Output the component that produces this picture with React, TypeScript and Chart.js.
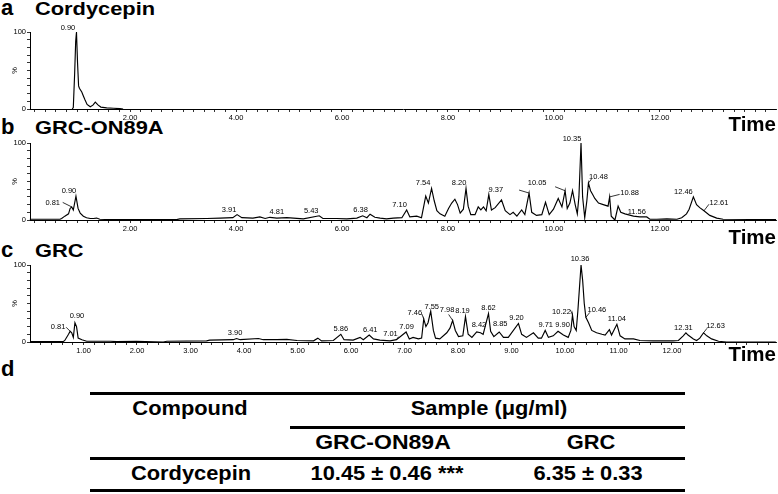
import { useEffect, useRef } from "react";
import { Chart, registerables } from "chart.js";

Chart.register(...registerables);

const FONT = "'Liberation Sans', Arial, Helvetica, sans-serif";

// ---------------- data (retention time in min, relative intensity in %) ----------------
// a  Cordycepin standard
const timeA = [0.91, 0.93, 0.955, 0.975, 0.99, 1.01, 1.03, 1.045, 1.09, 1.12, 1.15, 1.19, 1.25, 1.3, 1.345, 1.4, 1.45, 1.56, 1.69, 1.81, 1.87];
const intensityA = [0, 2, 45, 88, 100, 60, 30, 27, 22, 17, 12, 6, 3, 5, 9, 5, 2.5, 1.5, 1, 0.5, 0];
const peakTextA = ["0.90"];
const peakTimeA = [0.99];

// b  GRC-ON89A
const timeB = [
  0.11, 0.68, 0.71, 0.77, 0.84, 0.87, 0.9, 0.93, 0.98, 1.02,
  1.06, 1.12, 1.18, 1.25, 1.31, 1.37, 1.43, 1.62, 2.88, 2.94,
  3.45, 3.7, 3.94, 4.02, 4.11, 4.32, 4.45, 4.55, 4.64, 4.77,
  4.96, 5.27, 5.57, 5.64, 5.9, 6.09, 6.28, 6.39, 6.47, 6.53,
  6.62, 6.72, 6.84, 6.97, 7.13, 7.22, 7.28, 7.41, 7.5, 7.58,
  7.63, 7.69, 7.74, 7.79, 7.85, 7.94, 8.01, 8.07, 8.13, 8.18,
  8.23, 8.29, 8.34, 8.38, 8.43, 8.51, 8.57, 8.62, 8.67, 8.72,
  8.77, 8.82, 8.89, 9.01, 9.08, 9.17, 9.23, 9.3, 9.39, 9.45,
  9.53, 9.58, 9.67, 9.77, 9.84, 9.91, 9.99, 10.08, 10.15, 10.21,
  10.25, 10.3, 10.35, 10.4, 10.44, 10.47, 10.51, 10.54, 10.58, 10.62,
  10.65, 10.69, 10.73, 10.77, 10.84, 10.93, 11.02, 11.05, 11.08, 11.15,
  11.21, 11.26, 11.34, 11.5, 11.62, 11.75, 11.81, 11.94, 12.13, 12.32,
  12.41, 12.5, 12.55, 12.63, 12.69, 12.75, 12.83, 12.94, 13.07, 13.19,
  14.19,
];
const intensityB = [
  1, 1, 2, 5, 8, 15, 17, 13, 31, 15,
  9, 5, 3, 2, 2, 2.5, 1, 0.5, 0.5, 1.5,
  2, 2.5, 3, 7, 3, 2.5, 4, 2, 3.5, 2.5,
  3, 1.5, 5.5, 2, 2, 1.5, 2.5, 5.5, 3, 7.5,
  3.5, 2.5, 1.5, 2.5, 3, 13, 4, 5, 3, 31,
  22, 41, 25, 12, 8, 5, 15, 22, 27, 20,
  9, 14, 41, 18, 7, 7, 17, 13, 17, 12,
  33, 13, 16, 26, 12, 7, 10, 5, 13, 7,
  35, 10, 6, 7, 23, 7, 14, 28, 17, 38,
  15, 22, 38, 20, 8, 30, 100, 30, 3, 25,
  48, 38, 33, 28, 22, 20, 18, 30, 5, 0,
  18, 10, 8, 5, 4, 4, 1, 1, 1.5, 1,
  3, 8, 14, 30, 20, 16, 12, 6, 2.5, 1,
  0.5,
];
const peakTextB = ["0.81", "0.90", "3.91", "4.81", "5.43", "6.38", "7.10", "7.54", "8.20", "9.37", "10.05", "", "10.35", "10.48", "10.88", "11.56", "12.46", "12.61"];
const peakTimeB = [0.9, 0.98, 4.02, 4.96, 5.57, 6.39, 7.22, 7.69, 8.34, 8.77, 10.21, 9.53, 10.51, 10.65, 11.05, 11.75, 12.63, 12.83];

// c  GRC
const timeC = [
  0, 0.62, 0.65, 0.72, 0.75, 0.78, 0.81, 0.84, 0.87, 0.9,
  0.97, 1.06, 1.5, 1.62, 1.99, 2.49, 2.56, 3.3, 3.36, 3.8,
  3.86, 3.93, 4.27, 4.36, 4.61, 4.8, 4.99, 5.3, 5.38, 5.45,
  5.67, 5.81, 5.87, 6.04, 6.17, 6.23, 6.34, 6.42, 6.54, 6.73,
  6.85, 7.03, 7.09, 7.16, 7.26, 7.32, 7.36, 7.4, 7.44, 7.49,
  7.54, 7.58, 7.66, 7.79, 7.85, 7.9, 7.95, 8.01, 8.09, 8.14,
  8.19, 8.26, 8.35, 8.42, 8.47, 8.57, 8.61, 8.67, 8.77, 8.85,
  8.94, 9.13, 9.19, 9.28, 9.41, 9.5, 9.56, 9.63, 9.69, 9.78,
  9.87, 9.97, 10.06, 10.11, 10.14, 10.17, 10.21, 10.24, 10.27, 10.3,
  10.33, 10.36, 10.39, 10.44, 10.5, 10.59, 10.69, 10.75, 10.83, 10.87,
  10.97, 11.03, 11.12, 11.28, 11.4, 11.65, 12.02, 12.12, 12.21, 12.26,
  12.3, 12.4, 12.46, 12.52, 12.59, 12.65, 12.74, 12.87, 13.02, 13.94,
];
const intensityC = [
  0.5, 0.5, 2, 10, 14, 12, 6, 25, 20, 5,
  3, 1, 1, 0.5, 1, 0, 1, 1.5, 2.5, 3,
  4.5, 3, 4.5, 3, 3, 3.5, 2, 1.5, 5, 1.5,
  2, 10, 3, 2.5, 6, 3, 9, 4, 2.5, 1.5,
  3, 13, 4, 6, 4, 5, 30, 20, 25, 40,
  15, 5, 4, 12, 18, 28, 15, 7, 8, 33,
  10, 6, 13, 12, 10, 37, 14, 7, 13, 6,
  6, 24, 10, 6, 12, 5, 5, 15, 6, 8,
  14, 9, 6, 15, 35, 20, 15, 40, 70, 100,
  80, 50, 32, 25, 15, 12, 10, 9, 16, 9,
  23, 8, 4, 4, 2, 1.5, 1.5, 2, 8, 12,
  9, 4, 2, 5, 12, 8, 4, 1, 0, 0,
];
const peakTextC = ["0.81", "0.90", "3.90", "5.86", "6.41", "7.01", "7.09", "7.46", "7.55", "7.98", "8.19", "8.42", "8.62", "8.85", "9.20", "9.71", "9.90", "10.22", "10.36", "10.46", "11.04", "12.31", "12.63"];
const peakTimeC = [0.75, 0.84, 3.86, 5.81, 6.34, 6.85, 7.03, 7.36, 7.49, 7.9, 8.14, 8.42, 8.57, 8.77, 9.13, 9.63, 9.87, 10.14, 10.3, 10.39, 10.97, 12.26, 12.59];

// axis tick labels
const xTickLabelsAB = ["2.00", "4.00", "6.00", "8.00", "10.00", "12.00"];
const xTickLabelsC = ["1.00", "2.00", "3.00", "4.00", "5.00", "6.00", "7.00", "8.00", "9.00", "10.00", "11.00", "12.00"];
const yTickLabels = ["0", "100"];

// d  table
const tableHeaders = ["Compound", "Sample (\u03bcg/ml)"];
const tableSamples = ["GRC-ON89A", "GRC"];
const tableCompound = "Cordycepin";
const tableValues = ["10.45 \u00b1 0.46 ***", "6.35 \u00b1 0.33"];

// ---------------- label placement (pixel offsets: text dx, dy; leader lx, ly) ----------------
const offsetsA = [[-8.5, 4.5, 0, 0]];
const offsetsB = [
  [-19, 4, -9, 4.5], [-7, 5, 0, 0], [-8, 5, 0, 0], [-10, 6, 0, 0], [-8, 5, 0, 0], [-2, 6, 0, 0],
  [-7, 5, 0, 0], [-8.5, 5, 0, 0], [-7, 5, 0, 0], [7, 5, 0, 0], [-28, 8, -10, 4], [0, 0, -10, 3],
  [-9, 4, 0, 0], [10, 6, 3, 4], [20, 4, 10, 2.5], [-10, 5, 0, 0], [-10, 5, 0, 0], [15, 7.5, 5, 6.5],
];
const offsetsC = [
  [-12, 4.5, -4, 4], [2, 6.5, 0, 0], [-1.5, 6, 0, 0], [0, 5, 0, 0], [1, 5, 0, 0], [-6, 6, 2, 3],
  [0.5, 5.5, 0, 0], [-9, 6, -2, 5], [1, 4.5, 0, 0], [-5.5, 10.5, -4, 6], [-3, 6, 0, 0], [-1.5, 7.5, 0, 0],
  [0, 6, 0, 0], [1, 8.5, 0, 0], [-2, 5.5, 0, 0], [0.5, 5.5, 0, 0], [4.5, 6, 0, 0], [-11, 3, -2, 5],
  [-1, 6.5, 0, 0], [11, 7.5, 4, 5], [0, 5, 0, 0], [-2.5, 5, 0, 0], [12, 7, 3.5, 4.5],
];

type PanelProps = {
  top: number;
  height: number;
  padTop: number;
  times: number[];
  values: number[];
  xMin: number;
  xMax: number;
  tickLabels: string[];
  peakText: string[];
  peakTime: number[];
  offsets: number[][];
};

function Chromatogram(p: PanelProps) {
  const ref = useRef<HTMLCanvasElement>(null);
  useEffect(() => {
    const canvas = ref.current as HTMLCanvasElement;
    const valueAt = (t: number) => {
      const ts = p.times;
      for (let i = 0; i < ts.length - 1; i++) {
        if (t >= ts[i] && t <= ts[i + 1]) {
          const f = (t - ts[i]) / (ts[i + 1] - ts[i] || 1);
          return p.values[i] + f * (p.values[i + 1] - p.values[i]);
        }
      }
      return 0;
    };
    const annot = {
      id: "peakAnnot",
      afterDatasetsDraw(chart: any) {
        const { ctx, scales } = chart;
        const xs = scales.x;
        const ys = scales.y;
        ctx.save();
        ctx.fillStyle = "#000";
        ctx.strokeStyle = "#000";
        ctx.lineWidth = 0.8;
        ctx.font = `7.5px ${FONT}`;
        ctx.textAlign = "center";
        ctx.textBaseline = "middle";
        p.peakText.forEach((txt, i) => {
          const t = p.peakTime[i];
          const [dx, dy, lx, ly] = p.offsets[i];
          const px = xs.getPixelForValue(t);
          const py = ys.getPixelForValue(valueAt(t));
          if (lx || ly) {
            ctx.beginPath();
            ctx.moveTo(px, py);
            ctx.lineTo(px + lx, py - ly);
            ctx.stroke();
          }
          if (txt) ctx.fillText(txt, px + dx, py - dy);
        });
        ctx.translate(15, ys.getPixelForValue(50));
        ctx.rotate(-Math.PI / 2);
        ctx.fillText("%", 0, 0);
        ctx.restore();
      },
    };
    const tickFont = { family: FONT, size: 7.5 };
    const chart = new Chart(canvas, {
      type: "line",
      data: {
        datasets: [
          {
            data: p.times.map((t, i) => ({ x: t, y: p.values[i] })),
            borderColor: "#000",
            borderWidth: 1.15,
            pointRadius: 0,
            tension: 0,
            clip: false,
            fill: false,
          } as any,
        ],
      },
      options: {
        responsive: false,
        maintainAspectRatio: false,
        animation: false,
        devicePixelRatio: 1,
        events: [],
        layout: { padding: { top: p.padTop, right: 2, left: 0, bottom: 0 } },
        plugins: { legend: { display: false }, tooltip: { enabled: false } },
        scales: {
          x: {
            type: "linear",
            min: p.xMin,
            max: p.xMax,
            bounds: "data",
            afterBuildTicks: (s: any) => {
              const ticks: { value: number }[] = [];
              for (let k = 1; k * 0.2 <= p.xMax + 1e-9; k++) {
                const v = +(k * 0.2).toFixed(2);
                if (v >= p.xMin) ticks.push({ value: v });
              }
              s.ticks = ticks;
            },
            afterFit: (s: any) => {
              s.height = 16;
            },
            grid: { display: true, drawOnChartArea: false, drawTicks: true, tickLength: 3, color: "#000", lineWidth: 0.8 },
            border: { display: true, color: "#000", width: 1 },
            ticks: {
              autoSkip: false,
              maxRotation: 0,
              minRotation: 0,
              padding: 1,
              color: "#000",
              font: tickFont,
              callback: (v: any) => {
                const lab = p.tickLabels.find((l) => Math.abs(parseFloat(l) - Number(v)) < 1e-6);
                return lab ?? "";
              },
            },
          } as any,
          y: {
            type: "linear",
            min: 0,
            max: 100,
            afterBuildTicks: (s: any) => {
              const ticks: { value: number }[] = [];
              for (let k = 0; k <= 10; k++) ticks.push({ value: k * 10 });
              s.ticks = ticks;
            },
            afterFit: (s: any) => {
              s.width = 30;
            },
            grid: { display: true, drawOnChartArea: false, drawTicks: true, tickLength: 3, color: "#000", lineWidth: 0.8 },
            border: { display: true, color: "#000", width: 1 },
            ticks: {
              autoSkip: false,
              padding: 1,
              color: "#000",
              font: tickFont,
              callback: (v: any) => {
                const lab = yTickLabels.find((l) => Number(l) === Number(v));
                return lab ?? "";
              },
            },
          } as any,
        },
      },
      plugins: [annot],
    });
    return () => chart.destroy();
  }, []);
  return (
    <canvas
      ref={ref}
      width={778}
      height={p.height}
      style={{ position: "absolute", left: 0, top: p.top, width: 778, height: p.height }}
    />
  );
}

function Txt(props: {
  x: number;
  baseline: number;
  size: number;
  text: string;
  scale?: number;
  align?: "left" | "center" | "right";
}) {
  const { x, baseline, size, text, scale = 1, align = "left" } = props;
  const w = 400;
  const left = align === "left" ? x : align === "center" ? x - w / 2 : x - w;
  return (
    <div
      style={{
        position: "absolute",
        left,
        width: w,
        top: baseline - 0.8465 * size,
        fontSize: size,
        lineHeight: `${size}px`,
        fontWeight: 700,
        fontFamily: FONT,
        color: "#000",
        textAlign: align,
        whiteSpace: "pre",
        transform: `scaleX(${scale})`,
        transformOrigin: align === "left" ? "left center" : align === "center" ? "center center" : "right center",
      }}
    >
      {text}
    </div>
  );
}

function HLine(props: { x1: number; x2: number; y: number; w?: number }) {
  const { x1, x2, y, w = 3 } = props;
  return <div style={{ position: "absolute", left: x1, width: x2 - x1, top: y - w / 2, height: w, background: "#000" }} />;
}

export default function App() {
  return (
    <div
      style={{
        position: "fixed",
        left: 0,
        top: 0,
        width: 778,
        height: 494,
        background: "#fff",
        overflow: "hidden",
        fontFamily: FONT,
      }}
    >
      {/* titles */}
      <Txt x={1} baseline={16} size={22} text="a" />
      <Txt x={35} baseline={16} size={18.5} text="Cordycepin" scale={1.18} />
      <Txt x={1} baseline={135} size={22} text="b" />
      <Txt x={35} baseline={135} size={18.5} text="GRC-ON89A" scale={1.18} />
      <Txt x={1} baseline={258} size={22} text="c" />
      <Txt x={35} baseline={258} size={18.5} text="GRC" scale={1.18} />
      <Txt x={1} baseline={377} size={22} text="d" />

      <Chromatogram
        top={12}
        height={113}
        padTop={20}
        times={timeA}
        values={intensityA}
        xMin={0.113}
        xMax={14.189}
        tickLabels={xTickLabelsAB}
        peakText={peakTextA}
        peakTime={peakTimeA}
        offsets={offsetsA}
      />
      <Chromatogram
        top={123}
        height={113}
        padTop={20}
        times={timeB}
        values={intensityB}
        xMin={0.113}
        xMax={14.189}
        tickLabels={xTickLabelsAB}
        peakText={peakTextB}
        peakTime={peakTimeB}
        offsets={offsetsB}
      />
      <Chromatogram
        top={245}
        height={113}
        padTop={20}
        times={timeC}
        values={intensityC}
        xMin={0}
        xMax={13.944}
        tickLabels={xTickLabelsC}
        peakText={peakTextC}
        peakTime={peakTimeC}
        offsets={offsetsC}
      />

      <Txt x={776} baseline={131} size={20.5} text="Time" align="right" />
      <Txt x={776} baseline={244} size={20.5} text="Time" align="right" />
      <Txt x={776} baseline={361} size={20.5} text="Time" align="right" />

      {/* table */}
      <HLine x1={90} x2={685} y={393.5} />
      <Txt x={190} baseline={416} size={19.5} text={tableHeaders[0]} scale={1.12} align="center" />
      <Txt x={489} baseline={416} size={19.5} text={tableHeaders[1]} scale={1.12} align="center" />
      <HLine x1={290} x2={685} y={427.5} />
      <Txt x={383} baseline={450} size={19.5} text={tableSamples[0]} scale={1.18} align="center" />
      <Txt x={591} baseline={450} size={19.5} text={tableSamples[1]} scale={1.12} align="center" />
      <HLine x1={90} x2={685} y={458} />
      <Txt x={191} baseline={481} size={19.5} text={tableCompound} scale={1.12} align="center" />
      <Txt x={387} baseline={481} size={19.5} text={tableValues[0]} scale={1.12} align="center" />
      <Txt x={588} baseline={481} size={19.5} text={tableValues[1]} scale={1.12} align="center" />
      <HLine x1={90} x2={685} y={490} />
    </div>
  );
}
